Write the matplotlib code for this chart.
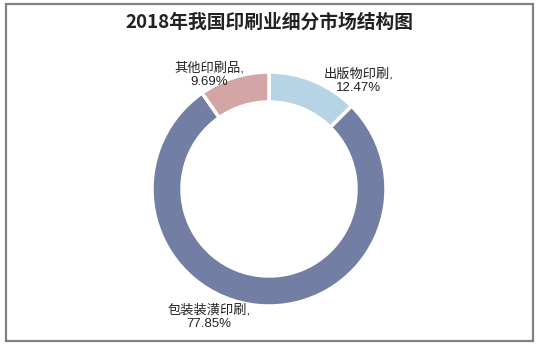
import matplotlib
matplotlib.use("Agg")
import matplotlib.pyplot as plt
from matplotlib.patches import Rectangle

plt.rcParams['font.family'] = ['Noto Sans CJK SC', 'DejaVu Sans']

# Market segments, clockwise from 12 o'clock
categories = ["出版物印刷", "包装装潢印刷", "其他印刷品"]
shares = [12.47, 77.85, 9.69]
colors = ["#b7d4e6", "#737ea5", "#d4a5a5"]
title = "2018年我国印刷业细分市场结构图"

W, H = 537, 345
fig = plt.figure(figsize=(W / 100, H / 100), dpi=100)
ax = fig.add_axes([0, 0, 1, 1])

cx, cy = 269, H - 189
r_out, ring = 117, 30
ax.pie(shares, colors=colors, startangle=90, counterclock=False,
       center=(cx, cy), radius=r_out, frame=True,
       wedgeprops=dict(width=ring, edgecolor="white", linewidth=2.5))
ax.set_xlim(0, W)
ax.set_ylim(0, H)
ax.set_aspect("equal")
ax.axis("off")

# outer frame
ax.add_patch(Rectangle((5.5, 4.5), 527.5, 337, fill=False, edgecolor="#808080", linewidth=1.6))

ax.text(269, H - 22, title, ha="center", va="center", fontsize=13.5,
        fontweight="bold", color="#222222")

label_pos = [(359, H - 81), (209, H - 317), (209, H - 75)]
for name, val, (lx, ly) in zip(categories, shares, label_pos):
    ax.text(lx, ly, f"{name},\n{val:.2f}%", ha="center", va="center",
            fontsize=9.5, color="#222222", linespacing=1.1,
            family=["Liberation Sans", "Noto Sans CJK SC"])

fig.savefig("out.png", dpi=100)
